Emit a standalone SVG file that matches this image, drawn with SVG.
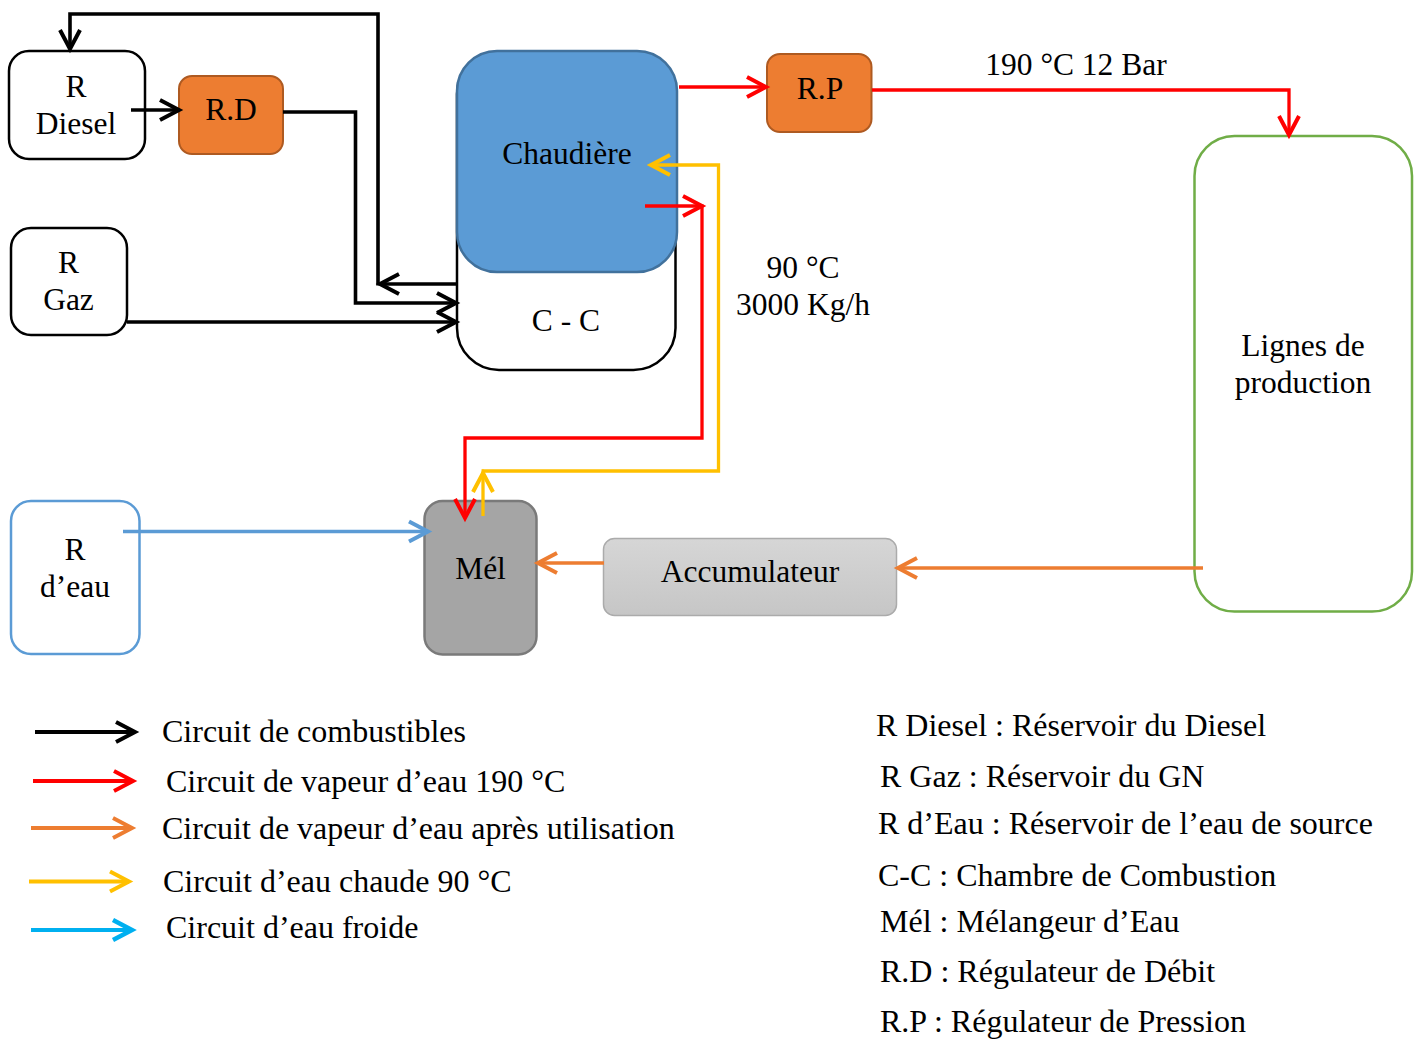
<svg xmlns="http://www.w3.org/2000/svg" width="1419" height="1039" viewBox="0 0 1419 1039">
  <style>
    text { font-family: "Liberation Serif", "Times New Roman", serif; fill: #000; }
    .lbl { font-size: 31.5px; text-anchor: middle; }
    .leg { font-size: 32px; }
    .pipe { fill: none; stroke-width: 3.3; stroke-linejoin: miter; }
    .fuel { stroke: #000; stroke-width: 3.6; }
    .steam { stroke: #FF0000; }
    .used { stroke: #ED7D31; }
    .hot { stroke: #FFC000; }
    .cold { stroke: #5B9BD5; }
    .tank { fill: #fff; stroke: #000; stroke-width: 2.5; }
    .reg { fill: #ED7D31; stroke: #AE5A21; stroke-width: 2; }
    .key { fill: none; stroke-width: 4; }
  </style>
  <defs>
    <marker id="arBlack" markerUnits="userSpaceOnUse" viewBox="-24 -14 28 28" markerWidth="28" markerHeight="28" refX="0" refY="0" orient="auto" overflow="visible">
      <path d="M-19,-10 L0,0 L-19,10" fill="none" stroke="#000" stroke-width="4"/>
    </marker>
    <marker id="arRed" markerUnits="userSpaceOnUse" viewBox="-24 -14 28 28" markerWidth="28" markerHeight="28" refX="0" refY="0" orient="auto" overflow="visible">
      <path d="M-19,-10 L0,0 L-19,10" fill="none" stroke="#FF0000" stroke-width="4"/>
    </marker>
    <marker id="arOrange" markerUnits="userSpaceOnUse" viewBox="-24 -14 28 28" markerWidth="28" markerHeight="28" refX="0" refY="0" orient="auto" overflow="visible">
      <path d="M-19,-10 L0,0 L-19,10" fill="none" stroke="#ED7D31" stroke-width="4"/>
    </marker>
    <marker id="arYellow" markerUnits="userSpaceOnUse" viewBox="-24 -14 28 28" markerWidth="28" markerHeight="28" refX="0" refY="0" orient="auto" overflow="visible">
      <path d="M-19,-10 L0,0 L-19,10" fill="none" stroke="#FFC000" stroke-width="4"/>
    </marker>
    <marker id="arBlue" markerUnits="userSpaceOnUse" viewBox="-24 -14 28 28" markerWidth="28" markerHeight="28" refX="0" refY="0" orient="auto" overflow="visible">
      <path d="M-19,-10 L0,0 L-19,10" fill="none" stroke="#5B9BD5" stroke-width="4"/>
    </marker>
    <marker id="arCyan" markerUnits="userSpaceOnUse" viewBox="-24 -14 28 28" markerWidth="28" markerHeight="28" refX="0" refY="0" orient="auto" overflow="visible">
      <path d="M-19,-10 L0,0 L-19,10" fill="none" stroke="#00B0F0" stroke-width="4.5"/>
    </marker>
    <linearGradient id="accFill" x1="0" y1="0" x2="0" y2="1">
      <stop offset="0" stop-color="#D6D6D6"/>
      <stop offset="1" stop-color="#C6C6C6"/>
    </linearGradient>
  </defs>

  <rect width="1419" height="1039" fill="#fff"/>

  <!-- Nodes -->
  <g id="r-diesel">
    <rect class="tank" x="9" y="51" width="136" height="108" rx="20"/>
    <text class="lbl" x="76" y="97">R</text>
    <text class="lbl" x="76" y="134">Diesel</text>
  </g>
  <g id="r-d">
    <rect class="reg" x="179" y="76" width="104" height="78" rx="13"/>
    <text class="lbl" x="231" y="120">R.D</text>
  </g>
  <g id="r-gaz">
    <rect class="tank" x="11" y="228" width="116" height="107" rx="20"/>
    <text class="lbl" x="68.5" y="273">R</text>
    <text class="lbl" x="68.5" y="310">Gaz</text>
  </g>
  <g id="chambre-combustion">
    <rect class="tank" x="457" y="52" width="218.5" height="318" rx="42"/>
    <text class="lbl" x="566" y="331">C - C</text>
  </g>
  <g id="chaudiere">
    <rect x="457" y="51" width="220" height="221" rx="40" fill="#5B9BD5" stroke="#41719C" stroke-width="2.5"/>
    <text class="lbl" x="567" y="164">Chaudière</text>
  </g>
  <g id="r-p">
    <rect class="reg" x="767" y="54" width="104.5" height="78" rx="13"/>
    <text class="lbl" x="820" y="99">R.P</text>
  </g>
  <g id="lignes-production">
    <rect x="1194.5" y="136" width="217.5" height="475.5" rx="40" fill="#fff" stroke="#70AD47" stroke-width="2.5"/>
    <text class="lbl" x="1303" y="356">Lignes de</text>
    <text class="lbl" x="1303" y="393">production</text>
  </g>
  <g id="r-eau">
    <rect x="11" y="501" width="128.5" height="153" rx="20" fill="#fff" stroke="#5B9BD5" stroke-width="2.5"/>
    <text class="lbl" x="75" y="560">R</text>
    <text class="lbl" x="75" y="597">d’eau</text>
  </g>
  <g id="melangeur">
    <rect x="424.5" y="501" width="112" height="153.5" rx="18" fill="#A5A5A5" stroke="#7A7A7A" stroke-width="2.5"/>
    <text class="lbl" x="480.5" y="579">Mél</text>
  </g>
  <g id="accumulateur">
    <rect x="603.5" y="538.5" width="293" height="77" rx="11" fill="url(#accFill)" stroke="#ABABAB" stroke-width="1.5"/>
    <text class="lbl" x="750" y="582">Accumulateur</text>
  </g>

  <!-- Connectors -->
  <g id="connectors">
    <!-- fuel circuit -->
    <path class="pipe fuel" d="M131,110 L179,110" marker-end="url(#arBlack)"/>
    <path class="pipe fuel" d="M283,112 L355.5,112 L355.5,303 L456,303" marker-end="url(#arBlack)"/>
    <path class="pipe fuel" d="M127,322 L456,322" marker-end="url(#arBlack)"/>
    <path class="pipe fuel" d="M457,284 L380,284" marker-end="url(#arBlack)"/>
    <path class="pipe fuel" d="M378,285.5 L378,14 L70,14 L70,49" marker-end="url(#arBlack)"/>

    <!-- steam 190 °C -->
    <path class="pipe steam" d="M679,87 L766,87" marker-end="url(#arRed)"/>
    <path class="pipe steam" d="M872,90 L1289,90 L1289,135" marker-end="url(#arRed)"/>
    <path class="pipe steam" d="M645,206 L702,206" marker-end="url(#arRed)"/>
    <path class="pipe steam" d="M702,204.5 L702,438 L465,438 L465,518" marker-end="url(#arRed)"/>

    <!-- hot water 90 °C -->
    <path class="pipe hot" d="M483,516 L483,473" marker-end="url(#arYellow)"/>
    <path class="pipe hot" d="M481.5,471 L718.5,471 L718.5,165 L651,165" marker-end="url(#arYellow)"/>

    <!-- used steam return -->
    <path class="pipe used" d="M1203,568 L898,568" marker-end="url(#arOrange)"/>
    <path class="pipe used" d="M604,563 L538,563" marker-end="url(#arOrange)"/>

    <!-- cold water -->
    <path class="pipe cold" d="M123,531.5 L428,531.5" marker-end="url(#arBlue)"/>

    <!-- flow labels -->
    <text class="lbl" x="1076" y="75">190 °C 12 Bar</text>
    <text class="lbl" x="803" y="278">90 °C</text>
    <text class="lbl" x="803" y="315">3000 Kg/h</text>
  </g>

  <!-- Colour key -->
  <g id="legend-circuits">
    <path class="key" stroke="#000" d="M35,732 L135,732" marker-end="url(#arBlack)"/>
    <path class="key" stroke="#FF0000" d="M33,781 L133,781" marker-end="url(#arRed)"/>
    <path class="key" stroke="#ED7D31" d="M31,828 L132,828" marker-end="url(#arOrange)"/>
    <path class="key" stroke="#FFC000" d="M29,881.5 L129,881.5" marker-end="url(#arYellow)"/>
    <path class="key" stroke="#00B0F0" d="M31,930 L132,930" marker-end="url(#arCyan)"/>
    <text class="leg" x="162" y="742">Circuit de combustibles</text>
    <text class="leg" x="166" y="792">Circuit de vapeur d’eau 190 °C</text>
    <text class="leg" x="162" y="839">Circuit de vapeur d’eau après utilisation</text>
    <text class="leg" x="163" y="892">Circuit d’eau chaude 90 °C</text>
    <text class="leg" x="166" y="938">Circuit d’eau froide</text>
  </g>

  <!-- Abbreviations -->
  <g id="legend-abbreviations">
    <text class="leg" x="876" y="736">R Diesel : Réservoir du Diesel</text>
    <text class="leg" x="880" y="787">R Gaz : Réservoir du GN</text>
    <text class="leg" x="878" y="834">R d’Eau : Réservoir de l’eau de source</text>
    <text class="leg" x="878" y="886">C-C : Chambre de Combustion</text>
    <text class="leg" x="880" y="932">Mél : Mélangeur d’Eau</text>
    <text class="leg" x="880" y="982">R.D : Régulateur de Débit</text>
    <text class="leg" x="880" y="1032">R.P : Régulateur de Pression</text>
  </g>
</svg>
